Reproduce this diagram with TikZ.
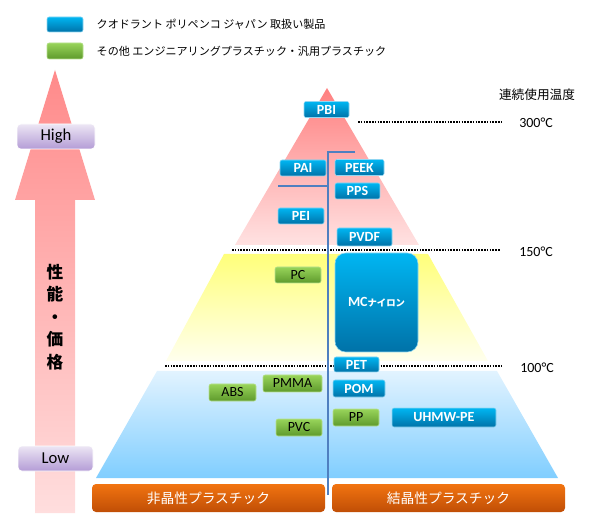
\documentclass[tikz,border=0pt]{standalone}
\usepackage{fontspec}
\setmainfont{Carlito}
\newfontfamily\cjk{Noto Sans CJK JP}
\definecolor{ProdTop}{HTML}{00B6F2}
\definecolor{ProdBot}{HTML}{0072A8}
\definecolor{ProdEdge}{HTML}{8FD6F2}
\definecolor{OthTop}{HTML}{98D45A}
\definecolor{OthBot}{HTML}{5E9A2C}
\definecolor{OthEdge}{HTML}{B8E090}
\definecolor{TriTop}{HTML}{FF8080}
\definecolor{TriBot}{HTML}{FFE2E2}
\definecolor{YelTop}{HTML}{FFFF7A}
\definecolor{YelBot}{HTML}{FFFFEE}
\definecolor{BluTop}{HTML}{E2F3FF}
\definecolor{BluBot}{HTML}{80CEFF}
\definecolor{BarTop}{HTML}{F27410}
\definecolor{BarBot}{HTML}{C04E06}
\definecolor{LvlTop}{HTML}{ECE6F4}
\definecolor{LvlBot}{HTML}{B49CD6}
\definecolor{ArrTop}{HTML}{FF8A8A}
\definecolor{ArrBot}{HTML}{FFDEDE}
\definecolor{SplitClr}{HTML}{4F7FC0}

\begin{document}
\begin{tikzpicture}[x=0.75pt,y=-0.75pt,
  sz/.style 2 args={minimum width=#1*0.75pt,minimum height=#2*0.75pt,inner sep=0pt},
  prod/.style={rounded corners=1.5pt,top color=ProdTop,bottom color=ProdBot,draw=ProdEdge,
    line width=0.4pt,text=white,font=\fontsize{10.5}{12}\selectfont\bfseries},
  other/.style={rounded corners=1.5pt,top color=OthTop,bottom color=OthBot,draw=OthEdge,
    line width=0.4pt,text=black,font=\fontsize{10.5}{12}\selectfont},
  level/.style={rounded corners=3pt,top color=LvlTop,bottom color=LvlBot,draw=white,
    font=\fontsize{12.5}{14}\selectfont},
  bar/.style={rounded corners=3pt,top color=BarTop,bottom color=BarBot,text=white,
    font=\cjk\fontsize{10.3}{12}\selectfont},
  templine/.style={line width=1.2pt,dash pattern=on 1.2pt off 0.9pt},
  templabel/.style={font=\fontsize{10.5}{12}\selectfont},
  legendtext/.style={anchor=west,font=\cjk\fontsize{8.3}{10}\selectfont}]
\useasboundingbox (0,0) rectangle (600,527);

% legend
\node[prod,sz={36}{15}] (lgProd) at (65,24.5) {};
\node[other,sz={36}{16}] (lgOth) at (65,51) {};
\node[legendtext] (lgProdTxt) at (92,24.5) {クオドラント ポリペンコ ジャパン 取扱い製品};
\node[legendtext] (lgOthTxt) at (92,51) {その他 エンジニアリングプラスチック・汎用プラスチック};

% performance arrow
\shade[top color=ArrTop,bottom color=ArrBot] (55,70) -- (95,200) -- (75,200) -- (75,513)
  -- (35,513) -- (35,200) -- (15,200) -- cycle;
\node[level,sz={78}{25}] (high) at (56,136.5) {High};
\node[level,sz={75}{25}] (low) at (55.5,458.5) {Low};
\node[align=center,font=\cjk\bfseries\fontsize{12.5}{16.9}\selectfont] (perf) at (55,317)
  {性\\能\\・\\価\\格};

% pyramid
\shade[top color=TriTop,bottom color=TriBot] (327,88) -- (419,245) -- (235,245) -- cycle;
\shade[top color=YelTop,bottom color=YelBot] (224,254) -- (428,254) -- (488,361) -- (166,361) -- cycle;
\shade[top color=BluTop,bottom color=BluBot] (157,371) -- (497,371) -- (558,478) -- (96,478) -- cycle;

% temperature lines
\node[font=\cjk\fontsize{9.5}{11}\selectfont] (tempTitle) at (537,95) {連続使用温度};
\coordinate (t300a) at (358,122); \coordinate (t300b) at (503,122);
\coordinate (t150a) at (232,250); \coordinate (t150b) at (500,250);
\coordinate (t100a) at (165,366); \coordinate (t100b) at (502,366);
\draw[templine] (t300a) -- (t300b);
\draw[templine] (t150a) -- (t150b);
\draw[templine] (t100a) -- (t100b);
\node[templabel] (t300) at (536,123) {300°C};
\node[templabel] (t150) at (536,252) {150°C};
\node[templabel] (t100) at (537,368) {100°C};

% amorphous / crystalline split
\coordinate (splTop) at (328,152); \coordinate (splBot) at (328,495);
\coordinate (splR) at (355,152); \coordinate (splMid) at (328,186); \coordinate (splL) at (278,186);
\draw[SplitClr,line width=0.8pt] (splR) -- (splTop) -- (splBot);
\draw[SplitClr,line width=0.8pt] (splL) -- (splMid);

% bottom bars
\node[bar,sz={233}{28}] (amorph) at (208.5,498) {非晶性プラスチック};
\node[bar,sz={233}{28}] (cryst) at (448.5,498) {結晶性プラスチック};

% products
\node[prod,sz={45}{16}] (pbi) at (326.5,109.5) {PBI};
\node[prod,sz={46}{16}] (pai) at (303,168) {PAI};
\node[prod,sz={49}{16}] (peek) at (359.5,167.5) {PEEK};
\node[prod,sz={45}{16}] (pps) at (357.5,191) {PPS};
\node[prod,sz={46}{16}] (pei) at (301,216) {PEI};
\node[prod,sz={55}{18}] (pvdf) at (364.5,237) {PVDF};
\node[prod,sz={83}{99},rounded corners=8pt] (mc) at (376.5,302.5)
  {MC{\cjk\fontsize{7}{8}\selectfont ナイロン}};
\node[prod,sz={45}{15}] (pet) at (356.5,364.5) {PET};
\node[prod,sz={52}{17}] (pom) at (359,388.5) {POM};
\node[prod,sz={104}{19}] (uhmw) at (444,417.5) {UHMW-PE};

\node[other,sz={46}{16}] (pc) at (298,275) {PC};
\node[other,sz={59}{17}] (pmma) at (292.5,383.5) {PMMA};
\node[other,sz={47}{17}] (abs) at (232.5,392.5) {ABS};
\node[other,sz={46}{17}] (pvc) at (299,427.5) {PVC};
\node[other,sz={46}{17}] (pp) at (356,417.5) {PP};

\end{tikzpicture}
\end{document}
